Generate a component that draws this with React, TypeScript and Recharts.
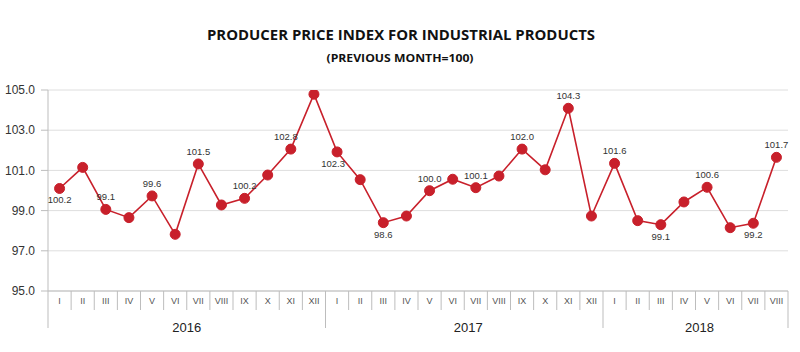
import { CartesianGrid, Line, LineChart, XAxis, YAxis } from "recharts";

const months = [
  "I", "II", "III", "IV", "V", "VI", "VII", "VIII", "IX", "X", "XI", "XII",
  "I", "II", "III", "IV", "V", "VI", "VII", "VIII", "IX", "X", "XI", "XII",
  "I", "II", "III", "IV", "V", "VI", "VII", "VIII",
];

const years = [
  "2016", "2016", "2016", "2016", "2016", "2016", "2016", "2016", "2016", "2016", "2016", "2016",
  "2017", "2017", "2017", "2017", "2017", "2017", "2017", "2017", "2017", "2017", "2017", "2017",
  "2018", "2018", "2018", "2018", "2018", "2018", "2018", "2018",
];

// plotted positions
const ppi = [
  100.1, 101.15, 99.06, 98.65, 99.73, 97.82, 101.32, 99.28, 99.61, 100.77, 102.06, 104.79,
  101.92, 100.54, 98.4, 98.73, 99.99, 100.56, 100.14, 100.72, 102.06, 101.03, 104.09, 98.73,
  101.35, 98.5, 98.3, 99.43, 100.16, 98.15, 98.37, 101.65,
];

// data labels exactly as printed on the chart
const pointLabels = [
  "100.2", null, "99.1", null, "99.6", null, "101.5", null, "100.2", null, "102.8", null,
  "102.3", null, "98.6", null, "100.0", null, "100.1", null, "102.0", null, "104.3", null,
  "101.6", null, "99.1", null, "100.6", null, "99.2", "101.7",
];

const yTicks = [95, 97, 99, 101, 103, 105];

const data = months.map((month, i) => ({
  key: `${years[i]}-${month}`,
  month,
  year: years[i],
  value: ppi[i],
  label: pointLabels[i],
}));

const WIDTH = 800;
const HEIGHT = 352;
const PLOT_LEFT = 48;
const PLOT_RIGHT = 788;
const BAND = (PLOT_RIGHT - PLOT_LEFT) / data.length;
const RED = "#c8202b";
const AXIS_GRAY = "#bdbdbd";
const FONT = "'Liberation Sans', Arial, sans-serif";

const labelsBelow = new Set([0, 12, 14, 26, 30]);
// a couple of labels sit a little to the left of their point
const labelShift: Record<number, number> = { 10: -5, 12: -4 };

function MonthTick(props: any) {
  const { x, y, payload } = props;
  const i = payload?.index ?? props.index ?? 0;
  const row = data[i];
  const left = x - BAND / 2;
  const isYearStart = i === 0 || data[i - 1].year !== row.year;
  const isLast = i === data.length - 1;

  let yearLabel = null;
  if (isYearStart) {
    const count = data.filter((d) => d.year === row.year).length;
    yearLabel = (
      <text
        x={left + (count * BAND) / 2 + (i === 0 ? 0 : 4)}
        y={y + 41}
        textAnchor="middle"
        fontSize={13}
        fill="#222"
        fontFamily={FONT}
      >
        {row.year}
      </text>
    );
  }

  return (
    <g>
      <line x1={left} x2={left} y1={y} y2={isYearStart ? y + 37 : y + 19} stroke={AXIS_GRAY} />
      {isLast ? (
        <line x1={x + BAND / 2} x2={x + BAND / 2} y1={y} y2={y + 37} stroke={AXIS_GRAY} />
      ) : null}
      <text x={x} y={y + 13} textAnchor="middle" fontSize={9} fill="#555" fontFamily={FONT}>
        {row.month}
      </text>
      {yearLabel}
    </g>
  );
}

function renderPointLabel(props: any) {
  const { x, y, index } = props;
  const text = data[index]?.label;
  if (!text) return null;
  const below = labelsBelow.has(index);
  return (
    <text
      key={`lbl-${index}`}
      x={x + (labelShift[index] ?? 0)}
      y={below ? y + 15 : y - 9}
      textAnchor="middle"
      fontSize={9.5}
      fill="#333"
      fontFamily={FONT}
    >
      {text}
    </text>
  );
}

export default function App() {
  return (
    <div
      style={{
        position: "absolute",
        left: 0,
        top: 0,
        width: WIDTH,
        height: HEIGHT,
        background: "#fff",
      }}
    >
      <LineChart
        width={WIDTH}
        height={HEIGHT}
        data={data}
        margin={{ top: 90, right: WIDTH - PLOT_RIGHT, left: 0, bottom: 16 }}
      >
        <CartesianGrid vertical={false} stroke="#dedede" />
        <XAxis
          dataKey="key"
          interval={0}
          height={45}
          padding={{ left: BAND / 2, right: BAND / 2 }}
          tickSize={0}
          tickMargin={0}
          tickLine={false}
          axisLine={{ stroke: AXIS_GRAY }}
          tick={<MonthTick />}
        />
        <YAxis
          domain={[95, 105]}
          ticks={yTicks}
          width={PLOT_LEFT}
          tickSize={7}
          tickMargin={6}
          tickLine={{ stroke: AXIS_GRAY }}
          axisLine={{ stroke: AXIS_GRAY }}
          tickFormatter={(v: number) => v.toFixed(1)}
          tick={{ fill: "#333", fontSize: 12, fontFamily: FONT }}
          allowDataOverflow
        />
        <Line
          type="linear"
          dataKey="value"
          stroke={RED}
          strokeWidth={1.6}
          dot={{ r: 5, fill: RED, stroke: RED, strokeWidth: 1 }}
          activeDot={false}
          label={renderPointLabel}
          isAnimationActive={false}
        />
      </LineChart>
      <svg
        width={WIDTH}
        height={80}
        style={{ position: "absolute", left: 0, top: 0, pointerEvents: "none" }}
      >
        <text
          x={401}
          y={40}
          textAnchor="middle"
          fontSize={14}
          fontWeight={700}
          fill="#111"
          fontFamily="'Open Sans', sans-serif"
          textLength={388}
          lengthAdjust="spacingAndGlyphs"
        >
          PRODUCER PRICE INDEX FOR INDUSTRIAL PRODUCTS
        </text>
        <text
          x={400}
          y={62}
          textAnchor="middle"
          fontSize={10}
          fontWeight={700}
          fill="#111"
          fontFamily="'Open Sans', sans-serif"
          textLength={147}
          lengthAdjust="spacingAndGlyphs"
        >
          (PREVIOUS MONTH=100)
        </text>
      </svg>
    </div>
  );
}
